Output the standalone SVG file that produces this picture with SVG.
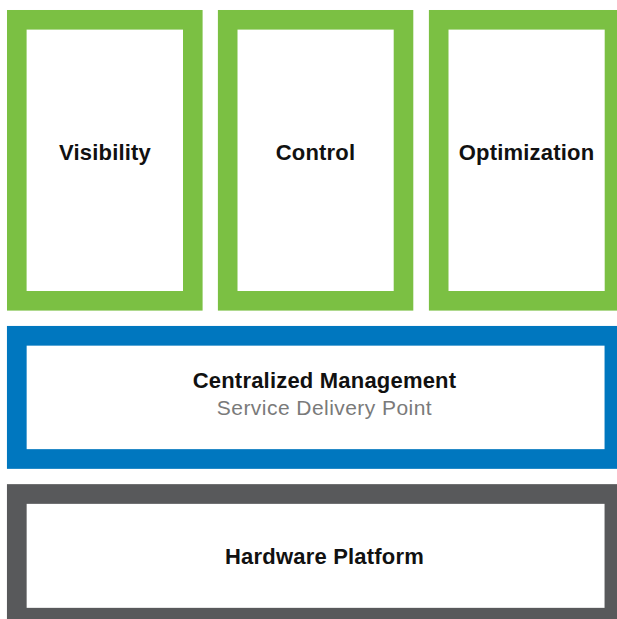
<svg xmlns="http://www.w3.org/2000/svg" width="617" height="619" viewBox="0 0 617 619">
<style>
.g{fill:#fff;stroke:#7BC043;stroke-width:19.6}
.b{fill:#fff;stroke:#0077BF;stroke-width:19.7}
.k{fill:#fff;stroke:#58595B;stroke-width:19.7}
.t{font-family:"Liberation Sans",Arial,sans-serif;font-weight:bold;font-size:22px;letter-spacing:0.2px;fill:#111;text-anchor:middle}
.s{font-family:"Liberation Sans",Arial,sans-serif;font-size:21px;letter-spacing:0.45px;fill:#7a7a7a;text-anchor:middle}
</style>
<rect width="617" height="619" fill="#fff"/>
<g id="visibility"><rect class="g" x="16.8" y="19.8" width="176" height="281"/><text class="t" x="105" y="160">Visibility</text></g>
<g id="control"><rect class="g" x="227.7" y="19.8" width="175.8" height="281"/><text class="t" x="315.5" y="160">Control</text></g>
<g id="optimization"><rect class="g" x="438.7" y="19.8" width="175.8" height="281"/><text class="t" x="526.5" y="160">Optimization</text></g>
<g id="management"><rect class="b" x="16.8" y="335.8" width="597.6" height="123.2"/><text class="t" x="324.5" y="388">Centralized Management</text><text class="s" x="324.5" y="415">Service Delivery Point</text></g>
<g id="hardware"><rect class="k" x="16.8" y="494" width="597.6" height="123.7"/><text class="t" x="324.5" y="564">Hardware Platform</text></g>
<g id="connectors"/>
</svg>
